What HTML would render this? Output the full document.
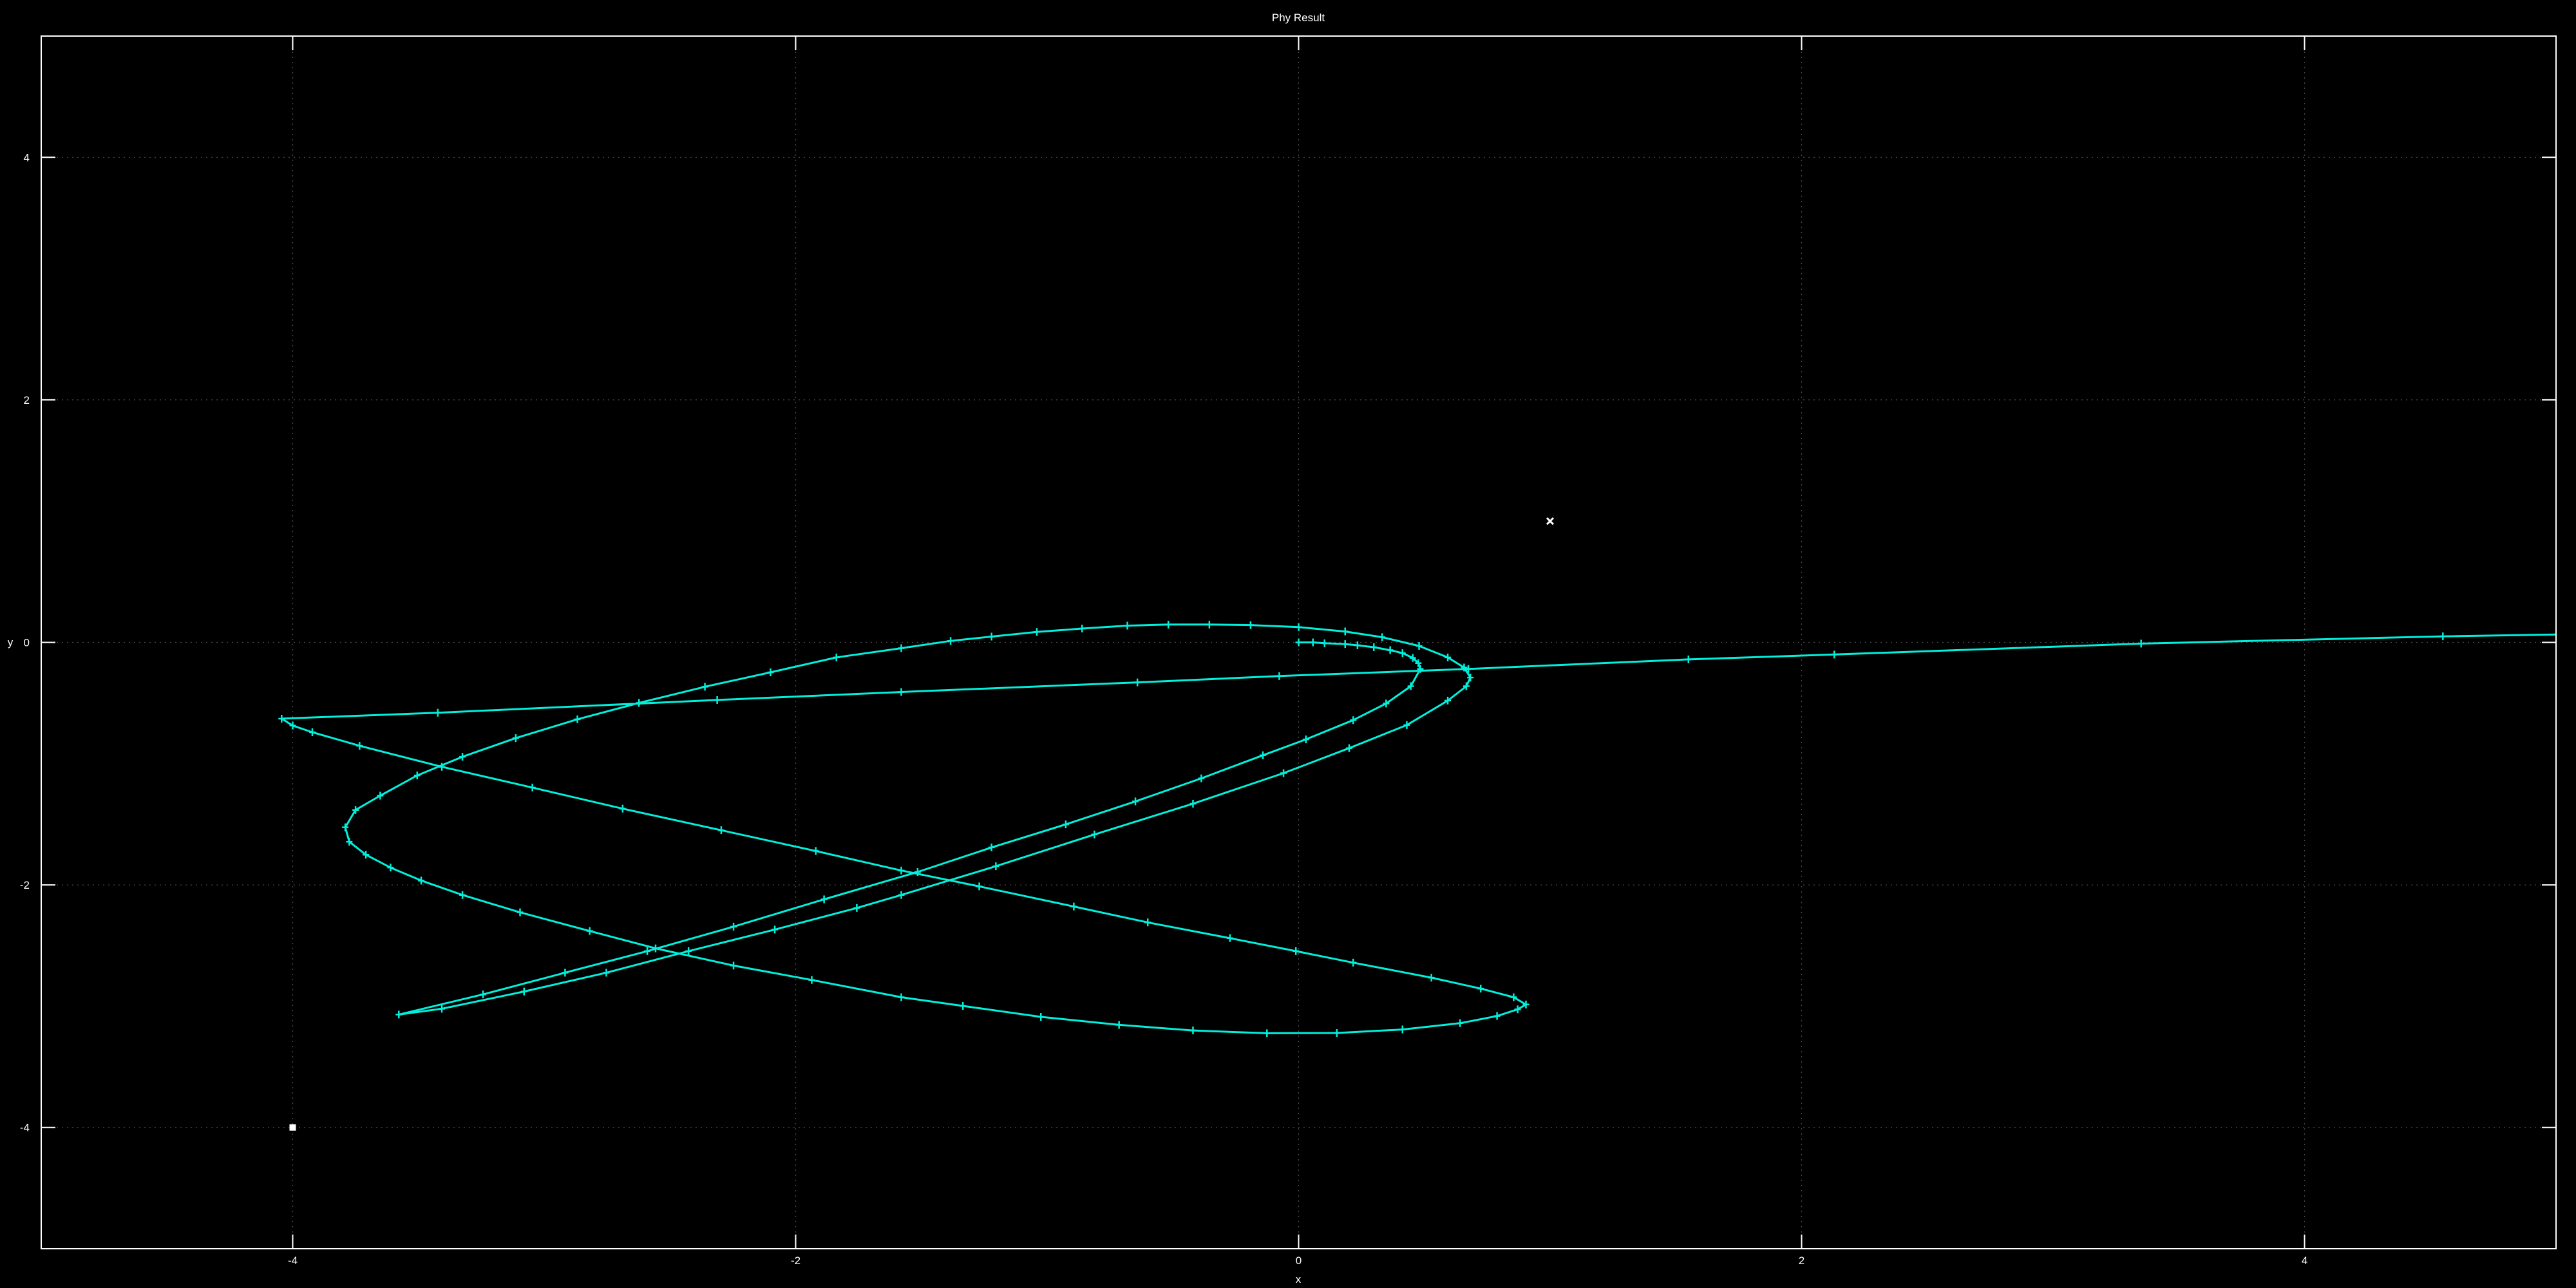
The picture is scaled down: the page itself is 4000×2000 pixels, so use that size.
<!DOCTYPE html>
<html><head><meta charset="utf-8"><style>
html,body{margin:0;padding:0;background:#000;}
svg{display:block;}
text{font-family:"Liberation Sans",sans-serif;fill:#fff;}
</style></head><body>
<svg id="chart" width="4000" height="2000" viewBox="0 0 4000 2000" xmlns="http://www.w3.org/2000/svg">
<rect x="0" y="0" width="4000" height="2000" fill="#000"/>
<text x="2016" y="33" font-size="17" text-anchor="middle">Phy Result</text>
<g id="grid"></g>
<g id="ticks"></g>
<g id="series"></g>
<g id="points"></g>
<rect x="64" y="56" width="3905" height="1883" fill="none" stroke="#fff" stroke-width="2"/>
<text x="2016" y="1992" font-size="17" text-anchor="middle">x</text>
<text x="16" y="1003" font-size="17" text-anchor="middle">y</text>
</svg>
<script>
const xTicks = [-4, -2, 0, 2, 4];
const yTicks = [-4, -2, 0, 2, 4];
const xTickLabels = ["-4", "-2", "0", "2", "4"];
const yTickLabels = ["-4", "-2", "0", "2", "4"];
const trajX = [0,0.057,0.103,0.185,0.234,0.299,0.364,0.413,0.454,0.476,0.484,
0.446,0.348,0.217,0.029,-0.142,-0.387,-0.649,-0.926,-1.221,-1.515,-1.887,-2.247,-2.590,-2.917,-3.243,-3.578,
-3.407,-3.080,-2.753,-2.426,-2.083,-1.757,-1.580,-1.204,-0.812,-0.420,-0.060,0.201,0.430,0.593,0.667,0.683,
0.658,0.593,0.479,0.332,0.185,0,-0.191,-0.355,-0.518,-0.681,-0.861,-1.041,-1.221,-1.384,-1.580,
-1.838,-2.100,-2.361,-2.623,-2.868,-3.113,-3.325,-3.505,-3.652,-3.750,-3.791,-3.775,-3.709,-3.611,-3.489,-3.325,-3.096,-2.819,-2.557,-2.247,-1.936,-1.580,
-1.335,-1.025,-0.714,-0.420,-0.126,0.152,0.413,0.642,0.789,0.871,0.904,
0.855,0.724,0.528,0.217,-0.011,-0.273,-0.600,-0.894,-1.270,-1.580,-1.920,-2.296,-2.688,-3.047,-3.407,-3.734,-3.922,-4.000,-4.044,
-3.423,-2.312,-1.580,-0.641,-0.077,0.675,1.55,2.13,3.35,4.55,5.3];
const trajY = [0,0,-0.007,-0.014,-0.024,-0.040,-0.064,-0.088,-0.128,-0.171,-0.219,
-0.361,-0.504,-0.641,-0.800,-0.931,-1.121,-1.311,-1.501,-1.691,-1.893,-2.119,-2.344,-2.546,-2.724,-2.903,-3.069,
-3.021,-2.879,-2.724,-2.546,-2.368,-2.190,-2.083,-1.846,-1.584,-1.330,-1.078,-0.872,-0.682,-0.480,-0.361,-0.290,
-0.207,-0.124,-0.029,0.043,0.090,0.126,0.143,0.147,0.147,0.138,0.114,0.086,0.048,0.012,-0.048,
-0.124,-0.247,-0.366,-0.499,-0.634,-0.789,-0.943,-1.097,-1.264,-1.382,-1.525,-1.644,-1.751,-1.857,-1.964,-2.083,-2.226,-2.380,-2.523,-2.665,-2.784,-2.926,
-2.998,-3.088,-3.154,-3.200,-3.223,-3.221,-3.192,-3.140,-3.081,-3.026,-2.986,
-2.926,-2.855,-2.765,-2.641,-2.546,-2.439,-2.309,-2.178,-2.012,-1.881,-1.720,-1.549,-1.371,-1.197,-1.026,-0.853,-0.741,-0.686,-0.629,
-0.580,-0.475,-0.409,-0.330,-0.278,-0.219,-0.14,-0.10,-0.01,0.05,0.075];
const crossPointX = [1];
const crossPointY = [1];
const squarePointX = [-4];
const squarePointY = [-4];

const NS = "http://www.w3.org/2000/svg";
const L = 64, R = 3969, T = 56, B = 1939;
const xMin = -5, xMax = 5, yMin = -5, yMax = 5;
function sx(v){ return L + (v - xMin) / (xMax - xMin) * (R - L); }
function sy(v){ return B - (v - yMin) / (yMax - yMin) * (B - T); }
function mk(tag, attrs){ const e = document.createElementNS(NS, tag); for (const k in attrs) e.setAttribute(k, attrs[k]); return e; }

const grid = document.getElementById('grid');
const ticks = document.getElementById('ticks');
xTicks.forEach((v, i) => {
  const g = mk('line', {x1: sx(v), x2: sx(v), y1: T, y2: B, stroke: '#4a4a4a', 'stroke-width': 1.2, 'stroke-dasharray': '2 6'});
  
  
  grid.appendChild(g);
  const t1 = mk('line', {x1: sx(v), x2: sx(v), y1: B, y2: B - 22, stroke: '#fff', 'stroke-width': 2});
  
  
  ticks.appendChild(t1);
  const t2 = mk('line', {x1: sx(v), x2: sx(v), y1: T, y2: T + 22, stroke: '#fff', 'stroke-width': 2});
  
  
  ticks.appendChild(t2);
  const lb = mk('text', {x: sx(v), y: 1963, 'font-size': 17, 'text-anchor': 'middle'});
  lb.textContent = xTickLabels[i];
  
  
  ticks.appendChild(lb);
});
yTicks.forEach((v, i) => {
  const g = mk('line', {x1: L, x2: R, y1: sy(v), y2: sy(v), stroke: '#4a4a4a', 'stroke-width': 1.2, 'stroke-dasharray': '2 6'});
  
  
  grid.appendChild(g);
  const t1 = mk('line', {x1: L, x2: L + 22, y1: sy(v), y2: sy(v), stroke: '#fff', 'stroke-width': 2});
  
  
  ticks.appendChild(t1);
  const t2 = mk('line', {x1: R, x2: R - 22, y1: sy(v), y2: sy(v), stroke: '#fff', 'stroke-width': 2});
  
  
  ticks.appendChild(t2);
  const lb = mk('text', {x: 46, y: sy(v) + 6, 'font-size': 17, 'text-anchor': 'end'});
  lb.textContent = yTickLabels[i];
  
  
  ticks.appendChild(lb);
});

const series = document.getElementById('series');
const clip = mk('clipPath', {id: 'plotclip'});
clip.appendChild(mk('rect', {x: L, y: T, width: R - L, height: B - T}));
document.getElementById('chart').appendChild(clip);
series.setAttribute('clip-path', 'url(#plotclip)');
const COLOR = '#00f0dc';
let d = '';
trajX.forEach((v, i) => { d += (i ? 'L' : 'M') + sx(v).toFixed(1) + ' ' + sy(trajY[i]).toFixed(1); });
const path = mk('path', {d: d, fill: 'none', stroke: COLOR, 'stroke-width': 3, 'stroke-linejoin': 'round'});


series.appendChild(path);
trajX.forEach((v, i) => {
  const cx = sx(v), cy = sy(trajY[i]);
  const m = mk('path', {d: `M${cx-5} ${cy}H${cx+5}M${cx} ${cy-6}V${cy+6}`, stroke: COLOR, 'stroke-width': 2.5});
  
  
  series.appendChild(m);
});

const pts = document.getElementById('points');
crossPointX.forEach((v, i) => {
  const cx = sx(v), cy = sy(crossPointY[i]);
  const m = mk('path', {d: `M${cx-5} ${cy-5}L${cx+5} ${cy+5}M${cx-5} ${cy+5}L${cx+5} ${cy-5}`, stroke: '#fff', 'stroke-width': 3});
  
  
  pts.appendChild(m);
});
squarePointX.forEach((v, i) => {
  const cx = sx(v), cy = sy(squarePointY[i]);
  const m = mk('rect', {x: cx - 5, y: cy - 5, width: 10, height: 10, fill: '#fff'});
  
  
  pts.appendChild(m);
});
</script>
</body></html>
